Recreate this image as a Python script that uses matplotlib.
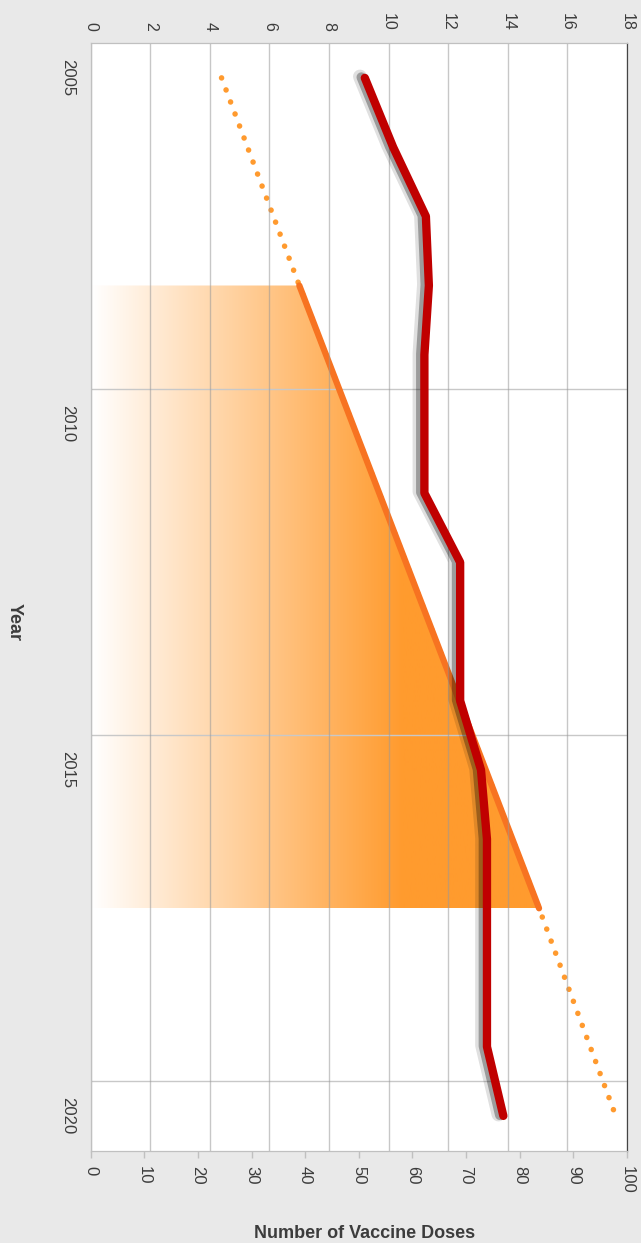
import matplotlib
matplotlib.use('Agg')
import matplotlib.pyplot as plt  # noqa: E402
import matplotlib.patheffects as pe  # noqa: E402
import numpy as np  # noqa: E402
from matplotlib.colors import LinearSegmentedColormap  # noqa: E402
from matplotlib.patches import Polygon  # noqa: E402
from matplotlib.ticker import FixedLocator  # noqa: E402

plt.rcParams['font.family'] = ['Liberation Sans', 'DejaVu Sans']

# red series (top axis, 0-18)
years = [2005, 2006, 2007, 2008, 2009, 2010, 2011, 2012,
         2013, 2014, 2015, 2016, 2017, 2018, 2019, 2020]
doses = [9.2, 10.15, 11.25, 11.35, 11.2, 11.2, 11.2, 12.4,
         12.4, 12.4, 13.1, 13.3, 13.3, 13.3, 13.3, 13.85]

# orange series (bottom axis, 0-100)
solid_years = [2008, 2017]
solid_vals = [38.9, 83.6]
trend_years = [2005, 2008, 2017, 2020]
trend_vals = [24.4, 38.9, 83.6, 97.9]

year_labels = [2005, 2010, 2015, 2020]
year_grid = [2009.5, 2014.5, 2019.5]
bottom_ticks = list(range(0, 101, 10))
top_ticks = list(range(0, 19, 2))

TXT = '#3c3c3c'
BG = '#e9e9e9'

fig = plt.figure(figsize=(6.41, 12.43), dpi=100, facecolor=BG)
ax = fig.add_axes([90.7 / 641, 1 - 1150.5 / 1243, (627 - 90.7) / 641, (1150.5 - 43.3) / 1243])
ax.set_facecolor('white')
top = ax.twiny()

# gradient fill under the solid orange line
cmap = LinearSegmentedColormap.from_list(
    'fade', [(0, '#ffffff'), (0.58, '#ff9b2e'), (1, '#ff9b2e')])
grad = np.linspace(0, 1, 256).reshape(1, -1)
im = ax.imshow(grad, cmap=cmap, extent=[0, 100, solid_years[-1], solid_years[0]],
               aspect='auto', zorder=1)
poly_x = [0] + solid_vals + [0]
poly_y = [solid_years[0]] + solid_years + [solid_years[-1]]
clip = Polygon(np.column_stack([poly_x, poly_y]), closed=True, transform=ax.transData)
im.set_clip_path(clip)

ax.plot(trend_vals, trend_years, color='#ff9a2e', lw=4,
        linestyle=(0, (0.01, 2.3)), dash_capstyle='round', zorder=3)
ax.plot(solid_vals, solid_years, color='#f77321', lw=4.5,
        solid_capstyle='round', zorder=4)

shadow = [pe.SimpleLineShadow(offset=(-3.5, 1), shadow_color='black', alpha=0.12, linewidth=10),
          pe.SimpleLineShadow(offset=(-2.5, 0.5), shadow_color='black', alpha=0.3, linewidth=7),
          pe.Normal()]
top.plot(doses, years, color='#c00000', lw=6, solid_capstyle='round',
         solid_joinstyle='round', path_effects=shadow, zorder=5)

ax.set_xlim(0, 100)
top.set_xlim(0, 18)
ax.set_ylim(2020.5, 2004.5)

# year axis
ax.set_yticks(year_labels)
ax.set_yticklabels([str(y) for y in year_labels], rotation=-90, va='center')
ax.yaxis.set_minor_locator(FixedLocator(year_grid))
ax.tick_params(axis='y', which='both', length=0, pad=11, labelsize=12, labelcolor=TXT)
ax.grid(which='minor', axis='y', color='#c8c8c8', lw=1)

# bottom value axis
ax.set_xticks(bottom_ticks)
ax.set_xticklabels([str(t) for t in bottom_ticks], rotation=-90, ha='center', va='top')
ax.tick_params(axis='x', length=5, width=1, color='#c0c0c0', pad=6,
               labelsize=12, labelcolor=TXT)

# top value axis with the vertical grid
top.set_xticks(top_ticks)
top.set_xticklabels([str(t) for t in top_ticks], rotation=-90, ha='center', va='bottom')
top.tick_params(axis='x', length=0, pad=9, labelsize=11.5, labelcolor=TXT)
top.grid(axis='x', color='#999999', alpha=0.55, lw=1)
top.set_axisbelow(True)

for a in (ax, top):
    for s in ('left', 'top', 'bottom'):
        a.spines[s].set_color('#c0c0c0')
    a.spines['right'].set_color('#444444')

fig.text(14 / 641, 1 - 622 / 1243, 'Year', rotation=-90, ha='center', va='center',
         fontsize=13, fontweight='bold', color=TXT)
fig.text(365 / 641, 1 - 1233 / 1243, 'Number of Vaccine Doses', ha='center', va='center',
         fontsize=13, fontweight='bold', color=TXT)

fig.savefig('out.png', dpi=100, facecolor=BG)
plt.close()
